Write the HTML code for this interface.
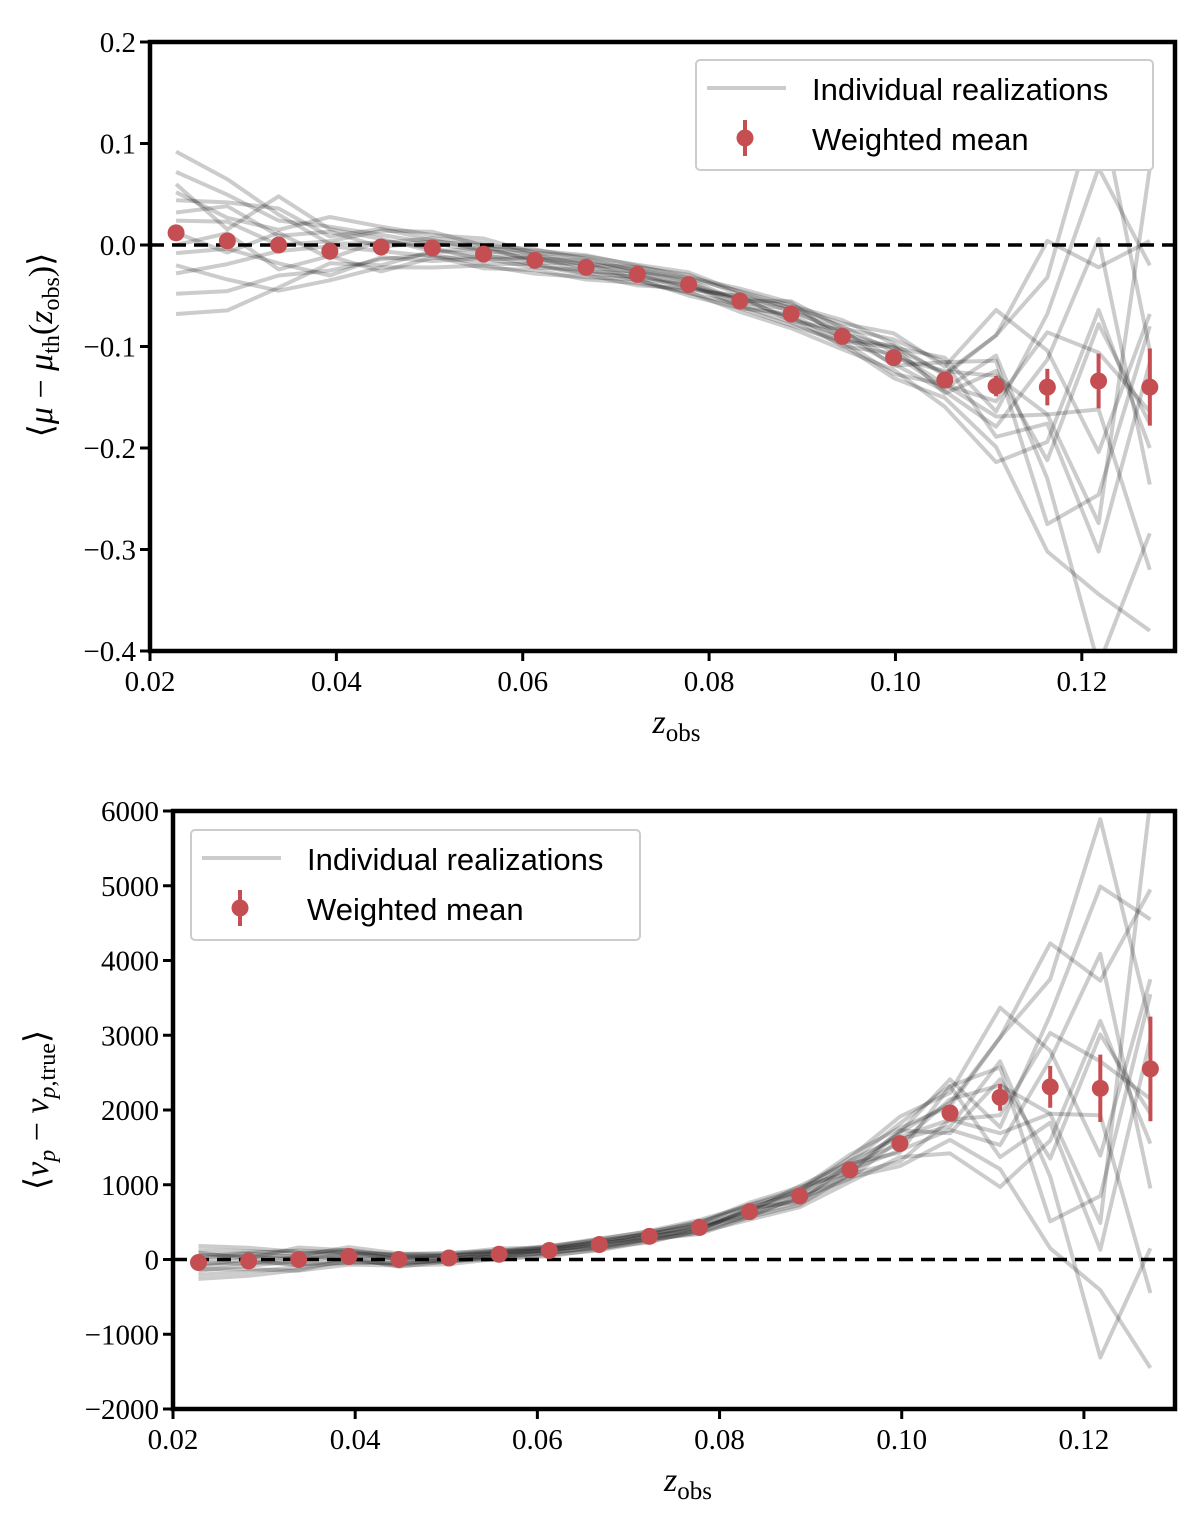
<!DOCTYPE html>
<html><head><meta charset="utf-8">
<style>
html,body{margin:0;padding:0;background:#fff;}
svg{display:block;}
text{font-family:"Liberation Serif",serif;fill:#000;}
.lg{font-family:"Liberation Sans",sans-serif;font-size:31px;}
</style></head>
<body>
<svg id="chart" width="1200" height="1525" viewBox="0 0 1200 1525" xmlns="http://www.w3.org/2000/svg">
<defs>
<clipPath id="clipTop"><rect x="150" y="42" width="1025" height="609"/></clipPath>
<clipPath id="clipBot"><rect x="173" y="811" width="1002" height="598"/></clipPath>
</defs>
<g id="top"></g>
<g id="bot"></g>
</svg>
<script>
const zBins = [0.0228,0.0283,0.0338,0.0393,0.0448,0.0503,0.0558,0.0613,0.0668,0.0723,0.0778,0.0833,0.0888,0.0943,0.0998,0.1053,0.1108,0.1163,0.1218,0.1273];
const muMean = [0.012,0.004,0.0,-0.006,-0.002,-0.003,-0.009,-0.015,-0.022,-0.029,-0.039,-0.055,-0.068,-0.090,-0.111,-0.133,-0.139,-0.140,-0.134,-0.140];
const muErr = [0.004,0.003,0.003,0.003,0.003,0.003,0.003,0.003,0.003,0.003,0.003,0.003,0.004,0.004,0.005,0.006,0.010,0.018,0.027,0.038];
const muSpread = [0.04,0.038,0.03,0.024,0.02,0.016,0.014,0.012,0.012,0.012,0.012,0.012,0.014,0.016,0.02,0.022,0.05,0.09,0.14,0.12];
const vMean = [-40,-20,0,40,0,20,70,120,200,310,430,640,850,1200,1550,1960,2170,2310,2290,2550];
const vErr = [20,20,20,20,20,20,20,20,20,25,30,35,40,50,60,80,180,280,450,700];
const vSpread = [110,110,100,90,80,70,70,70,80,90,100,120,150,200,300,450,800,1200,1800,2000];
const realDev = [
[1.5,1.2,0.8,1.0,0.6,0.3,0.2,0.5,0.4,0.1,-0.2,0.3,0.5,0.8,1.2,0.6,1.5,0.4,-0.5,0.6],
[-1.5,-1.3,-1.0,-0.8,-0.6,-0.4,-0.7,-0.3,-0.5,-0.2,0.1,-0.4,-0.6,-0.5,-1.0,-0.8,-1.2,-1.8,-1.5,-2.0],
[0.8,1.0,1.2,0.6,0.9,0.5,0.3,0.1,0.6,0.4,0.2,-0.1,0.3,0.2,0.5,1.0,-0.5,0.8,1.5,1.0],
[-0.5,-0.2,-0.6,-1.0,-0.5,-0.8,-0.3,-0.6,-0.2,-0.5,-0.7,-0.3,-0.2,-0.6,0.2,-0.4,0.6,-1.0,-2.0,-1.2],
[0.3,0.5,0.0,0.4,0.8,1.0,0.6,0.9,0.7,0.3,0.5,0.8,0.6,1.0,0.7,0.2,1.0,1.2,2.0,0.3],
[-1.0,-0.6,-0.2,0.2,-0.2,-0.5,-1.0,-0.8,-1.0,-0.7,-0.6,-0.9,-1.0,-0.8,-0.6,-1.2,-1.5,-0.6,0.5,-0.5],
[2.0,1.6,1.0,0.3,0.2,0.6,0.8,0.4,0.2,0.6,0.8,0.5,0.2,0.3,0.0,0.4,0.2,-0.3,-1.0,1.8],
[-2.0,-1.8,-1.4,-0.5,-0.9,-0.2,0.0,-0.4,-0.6,-0.9,-0.3,0.2,-0.3,0.0,-0.3,-0.5,-0.8,0.3,1.0,-0.8],
[0.0,-0.3,0.4,-0.3,0.3,0.0,-0.4,0.2,0.0,0.2,0.4,0.0,0.9,0.5,0.9,0.8,0.5,-1.5,-0.8,0.5],
[1.0,0.6,0.5,1.4,1.0,0.8,1.1,0.6,0.9,0.8,1.0,0.7,0.4,0.6,0.3,-0.2,-0.3,0.6,0.2,-0.2],
[-0.8,-1.0,-1.5,-1.2,-1.0,-1.2,-0.8,-1.1,-0.8,-0.4,-0.9,-0.6,-0.8,-0.3,-0.8,-0.2,-0.6,-0.3,-0.2,-1.5],
[0.5,0.9,0.3,0.8,0.0,0.4,0.6,-0.2,0.3,-0.4,0.0,-0.6,0.0,-0.3,0.5,0.3,1.0,1.6,0.8,1.2],
[-0.3,0.2,-0.8,-0.2,-1.2,-0.6,-0.2,0.2,-0.3,0.0,-0.4,0.4,-0.5,0.4,-0.4,0.8,-1.0,-0.4,-1.2,0.2],
[1.2,0.3,1.6,0.9,0.4,-0.2,0.4,0.8,1.0,0.7,0.6,1.0,0.8,-0.2,0.6,-0.6,0.3,-0.8,0.4,-0.3]
];
const xTicks = [0.02,0.04,0.06,0.08,0.10,0.12];
const xTickLabels = ["0.02","0.04","0.06","0.08","0.10","0.12"];
const muTicks = [0.2,0.1,0.0,-0.1,-0.2,-0.3,-0.4];
const muTickLabels = ["0.2","0.1","0.0","\u22120.1","\u22120.2","\u22120.3","\u22120.4"];
const vTicks = [6000,5000,4000,3000,2000,1000,0,-1000,-2000];
const vTickLabels = ["6000","5000","4000","3000","2000","1000","0","\u22121000","\u22122000"];

const NS="http://www.w3.org/2000/svg";
function mk(parent, tag, attrs, txt){
  const e=document.createElementNS(NS,tag);
  for(const k in attrs) e.setAttribute(k,attrs[k]);
  if(txt!==undefined) e.textContent=txt;
  parent.appendChild(e); return e;
}

function panel(g, cfg){
  const X=v=>cfg.x0+(v-0.02)/(0.13-0.02)*(cfg.x1-cfg.x0);
  const Y=v=>cfg.y1+(v-cfg.ymin)/(cfg.ymax-cfg.ymin)*(cfg.y0-cfg.y1);
  const lines=mk(g,'g',{'clip-path':'url(#'+cfg.clip+')'});
  
  
  realDev.forEach((row,i)=>{
    const pts=zBins.map((z,j)=>X(z).toFixed(1)+','+Y(cfg.mean[j]+row[j]*cfg.spread[j]).toFixed(1)).join(' ');
    const pl=mk(lines,'polyline',{points:pts,fill:'none',stroke:'#000','stroke-opacity':0.2,'stroke-width':4,'stroke-linejoin':'round'});
    
    
  });
  const zl=mk(g,'line',{x1:cfg.x0,x2:cfg.x1,y1:Y(0),y2:Y(0),stroke:'#000','stroke-width':3.5,'stroke-dasharray':'14,8'});
  
  
  zBins.forEach((z,j)=>{
    const eb=mk(g,'line',{x1:X(z),x2:X(z),y1:Y(cfg.mean[j]-cfg.err[j]),y2:Y(cfg.mean[j]+cfg.err[j]),stroke:'#c44e52','stroke-width':4});
    
    
    const c=mk(g,'circle',{cx:X(z),cy:Y(cfg.mean[j]),r:8.5,fill:'#c44e52'});
    
    
  });
  const fr=mk(g,'rect',{x:cfg.x0,y:cfg.y0,width:cfg.x1-cfg.x0,height:cfg.y1-cfg.y0,fill:'none',stroke:'#000','stroke-width':4.5});
  
  
  xTicks.forEach((t,i)=>{
    mk(g,'line',{x1:X(t),x2:X(t),y1:cfg.y1,y2:cfg.y1+10,stroke:'#000','stroke-width':3});
    const tx=mk(g,'text',{x:X(t),y:cfg.y1+40,'text-anchor':'middle','font-size':29},xTickLabels[i]);
    
    
  });
  cfg.yticks.forEach((t,i)=>{
    mk(g,'line',{x1:cfg.x0-10,x2:cfg.x0,y1:Y(t),y2:Y(t),stroke:'#000','stroke-width':3});
    const tx=mk(g,'text',{x:cfg.x0-14,y:Y(t)+10,'text-anchor':'end','font-size':29},cfg.ylabels[i]);
    
    
  });
  const xl=mk(g,'text',{x:(cfg.x0+cfg.x1)/2-10,y:cfg.y1+82,'font-size':34,'font-style':'italic'});
  
  
  xl.innerHTML='z<tspan font-size="25" font-style="normal" dy="8">obs</tspan>';
  const yl=mk(g,'text',{transform:'translate('+cfg.ylx+','+cfg.yly+') rotate(-90)','text-anchor':'middle','font-size':34});
  
  
  yl.innerHTML=cfg.ylabelHTML;
  const L=mk(g,'g',{});
  
  
  mk(L,'rect',{x:cfg.lx,y:cfg.ly,width:cfg.lw,height:110,rx:4,fill:'#fff',stroke:'#ccc','stroke-width':2});
  const ll=mk(L,'line',{x1:cfg.lx+11,x2:cfg.lx+90,y1:cfg.ly+28,y2:cfg.ly+28,stroke:'#000','stroke-opacity':0.2,'stroke-width':4});
  
  
  mk(L,'text',{x:cfg.lx+116,y:cfg.ly+40,class:'lg'},'Individual realizations');
  mk(L,'line',{x1:cfg.lx+49,x2:cfg.lx+49,y1:cfg.ly+60,y2:cfg.ly+96,stroke:'#c44e52','stroke-width':4});
  const lc=mk(L,'circle',{cx:cfg.lx+49,cy:cfg.ly+78,r:8.5,fill:'#c44e52'});
  
  
  mk(L,'text',{x:cfg.lx+116,y:cfg.ly+90,class:'lg'},'Weighted mean');
}

panel(document.getElementById('top'),{x0:150,x1:1175,y0:42,y1:651,ymin:-0.4,ymax:0.2,clip:'clipTop',
  mean:muMean,err:muErr,spread:muSpread,yticks:muTicks,ylabels:muTickLabels,
  ylx:52,yly:345,ylabelHTML:'\u27E8<tspan font-style="italic">\u03BC</tspan> \u2212 <tspan font-style="italic">\u03BC</tspan><tspan font-size="24" dy="7">th</tspan><tspan dy="-7">(</tspan><tspan font-style="italic">z</tspan><tspan font-size="24" dy="7">obs</tspan><tspan dy="-7">)\u27E9</tspan>',
  lx:696,ly:60,lw:457});
panel(document.getElementById('bot'),{x0:173,x1:1175,y0:811,y1:1409,ymin:-2000,ymax:6000,clip:'clipBot',
  mean:vMean,err:vErr,spread:vSpread,yticks:vTicks,ylabels:vTickLabels,
  ylx:48,yly:1110,ylabelHTML:'\u27E8<tspan font-style="italic">v</tspan><tspan font-size="24" font-style="italic" dy="7">p</tspan><tspan dy="-7"> \u2212 </tspan><tspan font-style="italic">v</tspan><tspan font-size="24" dy="7"><tspan font-style="italic">p</tspan>,true</tspan><tspan dy="-7">\u27E9</tspan>',
  lx:191,ly:830,lw:449});
</script>
</body></html>
